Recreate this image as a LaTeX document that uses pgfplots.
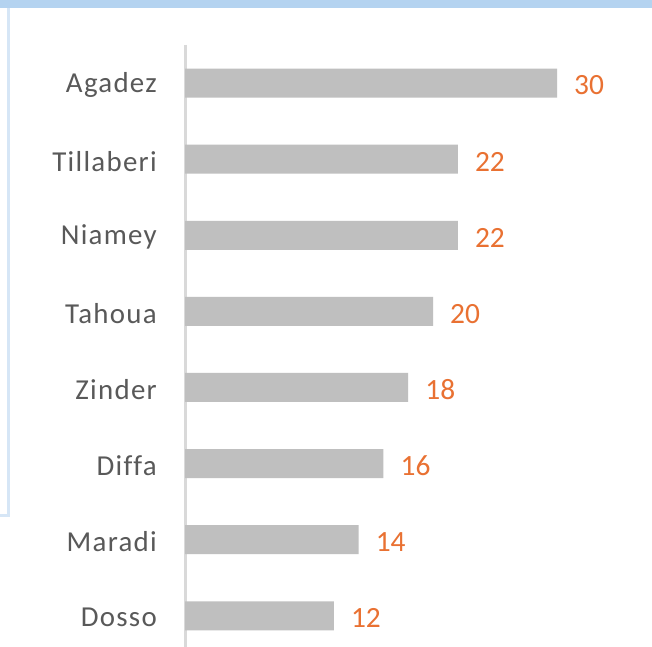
\documentclass[border=0pt]{standalone}
\usepackage{fontspec}
\setmainfont{Carlito}
\newfontfamily\tickfont[LetterSpace=4.5,Ligatures=NoCommon]{Carlito}
\usepackage{pgfplots}
\pgfplotsset{compat=1.18}
\definecolor{barc}{HTML}{BFBFBF}
\definecolor{labc}{HTML}{E97132}
\definecolor{tickc}{HTML}{595959}
\definecolor{axc}{HTML}{D9D9D9}
\definecolor{bandc}{HTML}{B4D3F0}
\definecolor{edgec}{HTML}{D6E6F6}
\begin{document}
\begin{tikzpicture}[x=1bp,y=1bp]
\useasboundingbox (0,0) rectangle (652,647);
\fill[white] (0,0) rectangle (652,647);
\fill[bandc] (0,639) rectangle (652,647);
\draw[edgec, line width=3bp] (8.5,639) -- (8.5,131) -- (0,131);
\begin{axis}[
  at={(185bp,0bp)}, anchor=south west,
  scale only axis,
  width=465bp, height=602bp,
  xmin=0, xmax=37.5,
  ymin=-0.5, ymax=7.41,
  y dir=reverse,
  xbar, bar width=29bp,
  axis x line=none,
  axis y line*=left,
  y axis line style={draw=axc, line width=3bp},
  ytick={0,1,2,3,4,5,6,7},
  yticklabels={Agadez,Tillaberi,Niamey,Tahoua,Zinder,Diffa,Maradi,Dosso},
  major tick length=0pt,
  yticklabel style={font=\tickfont\fontsize{29}{30}\selectfont, text=tickc, inner sep=0pt, xshift=-28bp, yshift=-2bp},
  nodes near coords,
  /pgf/number format/assume math mode=true,
  every node near coord/.append style={font=\fontsize{29.5}{30}\selectfont, text=labc, anchor=west, inner sep=0pt, xshift=17bp, yshift=-2.5bp},
  clip=false,
]
\addplot[fill=barc, draw=none] coordinates {
(30,0) (22,1) (22,2) (20,3) (18,4) (16,5) (14,6) (12,7)};
\end{axis}
\end{tikzpicture}
\end{document}
